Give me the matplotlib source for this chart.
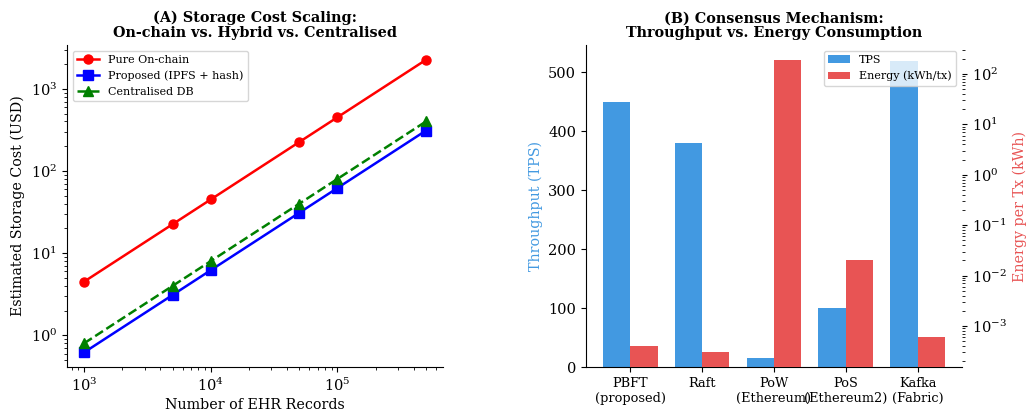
import matplotlib.pyplot as plt
import numpy as np

plt.rcParams['font.family'] = 'DejaVu Serif'

# (A) storage cost
records = [1000, 5000, 10000, 50000, 100000, 500000]
cost_onchain = [4.5, 22.5, 45, 225, 450, 2250]
cost_proposed = [0.62, 3.1, 6.2, 31, 62, 310]
cost_central = [0.8, 4.0, 8.0, 40, 80, 400]

# (B) consensus
mechanisms = ['PBFT\n(proposed)', 'Raft', 'PoW\n(Ethereum)', 'PoS\n(Ethereum2)', 'Kafka\n(Fabric)']
tps = [450, 380, 15, 100, 520]
energy = [0.0004, 0.0003, 190, 0.02, 0.0006]

fig, (ax1, ax2) = plt.subplots(1, 2, figsize=(10.26, 4.11), dpi=100)

ax1.plot(records, cost_onchain, 'o-', color='red', lw=1.8, ms=6.5, label='Pure On-chain')
ax1.plot(records, cost_proposed, 's-', color='blue', lw=1.8, ms=6.5, label='Proposed (IPFS + hash)')
ax1.plot(records, cost_central, '^--', color='green', lw=1.8, ms=6.5, label='Centralised DB')
ax1.set_xscale('log')
ax1.set_yscale('log')
ax1.set_xlabel('Number of EHR Records', fontsize=10.3, labelpad=3)
ax1.set_ylabel('Estimated Storage Cost (USD)', fontsize=10.3)
ax1.set_title('(A) Storage Cost Scaling:\nOn-chain vs. Hybrid vs. Centralised',
              fontsize=10.4, fontweight='bold', linespacing=1.05)
ax1.legend(loc='upper left', fontsize=8)
ax1.spines['top'].set_visible(False)
ax1.spines['right'].set_visible(False)
ax1.tick_params(labelsize=10.5)

x = np.arange(len(mechanisms))
w = 0.38
b1 = ax2.bar(x - w/2, tps, w, color='#4299e1', label='TPS')
ax2.set_ylabel('Throughput (TPS)', color='#4299e1', fontsize=10.3)
ax2.set_xticks(x)
ax2.set_xticklabels(mechanisms, fontsize=9.3)
ax2.tick_params(axis='y', labelsize=10.5)
ax2.spines['top'].set_visible(False)
ax2.spines['right'].set_visible(False)

ax3 = ax2.twinx()
b2 = ax3.bar(x + w/2, energy, w, color='#e85454', label='Energy (kWh/tx)')
ax3.set_yscale('log')
ax3.set_ylabel('Energy per Tx (kWh)', color='#e85454', fontsize=10.3)
ax3.tick_params(axis='y', labelsize=10.5)
for s in ['top', 'right', 'left', 'bottom']:
    ax3.spines[s].set_visible(False)
ax3.legend([b1, b2], ['TPS', 'Energy (kWh/tx)'], loc='upper right', fontsize=8)
ax2.set_title('(B) Consensus Mechanism:\nThroughput vs. Energy Consumption',
              fontsize=10.4, fontweight='bold', linespacing=1.05)

plt.subplots_adjust(left=0.0653, right=0.9376, top=0.89, bottom=0.107, wspace=0.38)
plt.savefig('out.png')
